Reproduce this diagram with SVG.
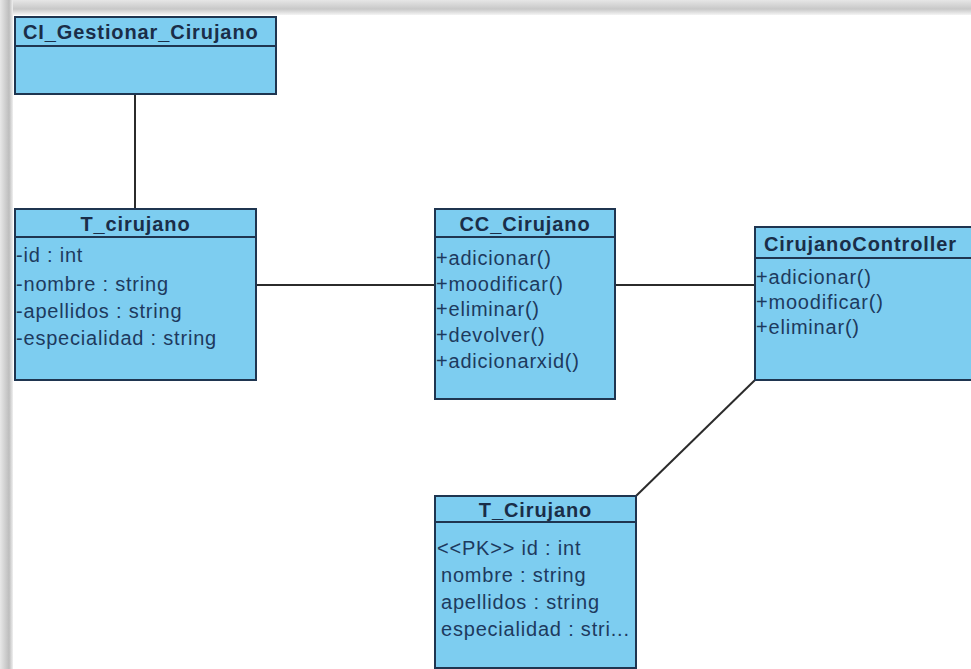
<svg xmlns="http://www.w3.org/2000/svg" width="971" height="669" viewBox="0 0 971 669">
  <defs>
    <linearGradient id="topShade" x1="0" y1="0" x2="0" y2="1">
      <stop offset="0" stop-color="#e6e6e6"/>
      <stop offset="0.6" stop-color="#c8c8c8"/>
      <stop offset="1" stop-color="#f4f4f4"/>
    </linearGradient>
    <linearGradient id="leftShade" x1="0" y1="0" x2="1" y2="0">
      <stop offset="0" stop-color="#e8e8e8"/>
      <stop offset="0.7" stop-color="#bdbdbd"/>
      <stop offset="1" stop-color="#f0f0f0"/>
    </linearGradient>
  </defs>
  <style>
    .box { fill: #7dcdf0; stroke: #1f3550; stroke-width: 2; }
    .div { stroke: #1f3550; stroke-width: 2; }
    .title { font-family: "Liberation Sans", Arial, sans-serif; font-weight: bold; font-size: 20px; letter-spacing: 0.9px; fill: #1a2d48; }
    .item { font-family: "Liberation Sans", Arial, sans-serif; font-size: 20px; letter-spacing: 0.8px; fill: #1d3a5e; }
    .link { stroke: #2b2b2b; stroke-width: 2; fill: none; }
  </style>

  <!-- page background and frame shading -->
  <rect x="0" y="0" width="971" height="669" fill="#ffffff"/>
  <rect x="0" y="0" width="971" height="15" fill="url(#topShade)"/>
  <rect x="0" y="0" width="13" height="669" fill="url(#leftShade)"/>

  <!-- connectors -->
  <g id="connectors">
    <line class="link" x1="135" y1="94" x2="135" y2="209"/>
    <line class="link" x1="256" y1="285" x2="435" y2="285"/>
    <line class="link" x1="615" y1="285" x2="755" y2="285"/>
    <line class="link" x1="755" y1="380" x2="636" y2="496"/>
  </g>

  <!-- boundary class -->
  <g id="CI_Gestionar_Cirujano">
    <rect class="box" x="15" y="17" width="261" height="77"/>
    <line class="div" x1="15" y1="46" x2="276" y2="46"/>
    <text class="title" x="23" y="39">CI_Gestionar_Cirujano</text>
  </g>

  <!-- entity table -->
  <g id="T_cirujano">
    <rect class="box" x="15" y="209" width="241" height="171"/>
    <line class="div" x1="15" y1="237" x2="256" y2="237"/>
    <text class="title" x="135.5" y="231" text-anchor="middle">T_cirujano</text>
    <text class="item" x="16" y="262">-id : int</text>
    <text class="item" x="16" y="291">-nombre : string</text>
    <text class="item" x="16" y="318">-apellidos : string</text>
    <text class="item" x="16" y="345">-especialidad : string</text>
  </g>

  <!-- control class -->
  <g id="CC_Cirujano">
    <rect class="box" x="435" y="209" width="180" height="190"/>
    <line class="div" x1="435" y1="237" x2="615" y2="237"/>
    <text class="title" x="525" y="231" text-anchor="middle">CC_Cirujano</text>
    <text class="item" x="436" y="265">+adicionar()</text>
    <text class="item" x="436" y="291">+moodificar()</text>
    <text class="item" x="436" y="316">+eliminar()</text>
    <text class="item" x="436" y="342">+devolver()</text>
    <text class="item" x="436" y="368">+adicionarxid()</text>
  </g>

  <!-- controller -->
  <g id="CirujanoController">
    <rect class="box" x="755" y="227" width="220" height="153"/>
    <line class="div" x1="755" y1="258" x2="975" y2="258"/>
    <text class="title" x="764" y="251">CirujanoController</text>
    <text class="item" x="756" y="284">+adicionar()</text>
    <text class="item" x="756" y="309">+moodificar()</text>
    <text class="item" x="756" y="334">+eliminar()</text>
  </g>

  <!-- persistence table -->
  <g id="T_Cirujano">
    <rect class="box" x="435" y="496" width="201" height="172"/>
    <line class="div" x1="435" y1="522" x2="636" y2="522"/>
    <text class="title" x="535.5" y="517" text-anchor="middle">T_Cirujano</text>
    <text class="item" x="437" y="555">&lt;&lt;PK&gt;&gt;  id : int</text>
    <text class="item" x="441" y="582">nombre : string</text>
    <text class="item" x="441" y="609">apellidos : string</text>
    <text class="item" x="441" y="636">especialidad : stri...</text>
  </g>
</svg>
